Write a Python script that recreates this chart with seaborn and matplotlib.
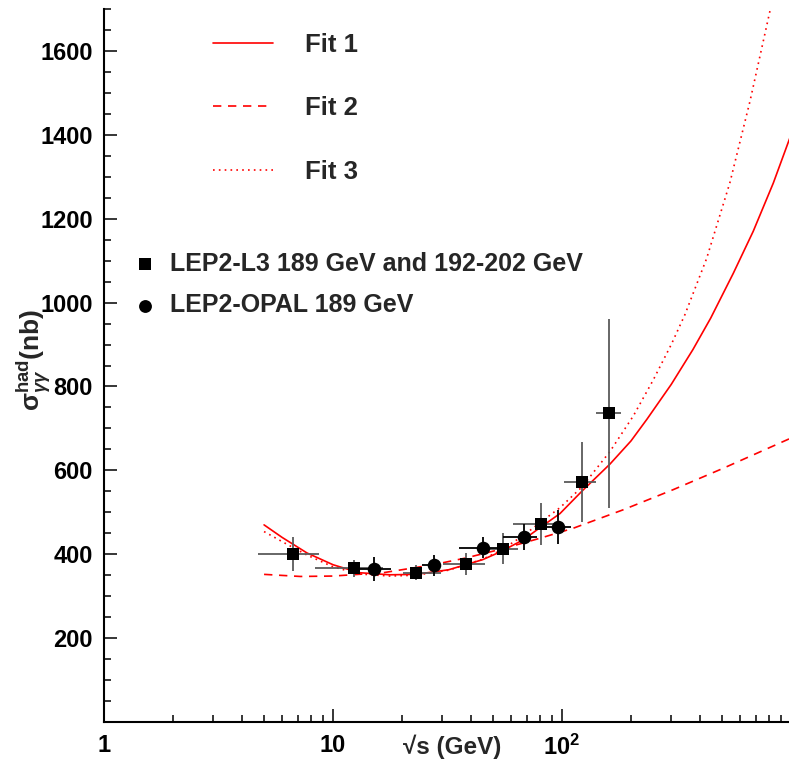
import matplotlib
matplotlib.use('Agg')
import matplotlib.pyplot as plt
import seaborn as sns
from matplotlib.ticker import FixedLocator, FixedFormatter, LogLocator, MultipleLocator, NullFormatter

# Fit curves (sqrt(s) in GeV, sigma in nb)
fit1_x = [5.0, 6.0, 7.7, 10, 13, 17.7, 23, 32, 45, 54, 68, 80, 98, 122, 162, 200, 235,
          300, 373, 446, 560, 684, 837, 1000]
fit1_y = [470, 440, 403, 375, 356, 351, 352, 363, 387, 406, 435, 463, 497, 550, 615, 670, 722,
          805, 888, 963, 1070, 1170, 1285, 1400]

fit2_x = [5.0, 7.2, 10, 16.6, 27.4, 38, 55, 80, 112, 185, 306, 506, 1000]
fit2_y = [352, 347, 348, 356, 375, 391, 413, 438, 462, 506, 554, 605, 677]

fit3_x = [5.0, 6.0, 7.7, 10, 13, 17.7, 23, 32, 45, 54, 68, 80, 98, 122, 162, 205,
          250, 300, 344, 428, 541, 662, 809, 840]
fit3_y = [454, 430, 398, 370, 353, 348, 350, 362, 388, 409, 445, 475, 511, 560, 645, 730,
          815, 900, 971, 1105, 1286, 1480, 1695, 1745]

# LEP2-L3 data
l3_x = [6.7, 12.4, 23.0, 38.2, 55.2, 81, 122, 161]
l3_y = [400, 366, 356, 377, 413, 472, 573, 736]
l3_xlo = [4.72, 8.33, 20.2, 30.2, 45.3, 61, 101.6, 141]
l3_xhi = [8.7, 16.5, 29.7, 46, 64.3, 100, 140.7, 181]
l3_yerr = [40, 20, 18, 26, 37, 50, 95, 226]

# LEP2-OPAL data
opal_x = [15.1, 27.7, 45.4, 68.2, 96.4]
opal_y = [365, 374, 416, 441, 465]
opal_xlo = [12.5, 24.4, 35.5, 55, 84]
opal_xhi = [17.9, 29.7, 57, 78, 110]
opal_yerr = [28, 25, 26, 30, 40]

sns.set_style('ticks')
plt.rcParams['font.family'] = ['Liberation Sans', 'DejaVu Sans']
plt.rcParams['font.weight'] = 'bold'
plt.rcParams['mathtext.fontset'] = 'custom'
plt.rcParams['mathtext.rm'] = 'Liberation Sans'
plt.rcParams['mathtext.it'] = 'Liberation Sans:italic'
plt.rcParams['mathtext.bf'] = 'Liberation Sans:bold'

W, H = 789, 766
fig = plt.figure(figsize=(W / 100, H / 100), dpi=100)
ax = fig.add_axes([104 / W, (H - 722) / H, 687 / W, 713 / H])

fit_handles = []
for fx, fy, ls in [(fit1_x, fit1_y, '-'), (fit2_x, fit2_y, (0, (5, 4))), (fit3_x, fit3_y, (0, (1, 2.5)))]:
    sns.lineplot(x=fx, y=fy, ax=ax, color='red', linestyle=ls, linewidth=1.2,
                 sort=False, estimator=None)
    fit_handles.append(ax.lines[-1])

# error bars
l3_xerr = [[x - lo for x, lo in zip(l3_x, l3_xlo)], [hi - x for x, hi in zip(l3_x, l3_xhi)]]
opal_xerr = [[x - lo for x, lo in zip(opal_x, opal_xlo)], [hi - x for x, hi in zip(opal_x, opal_xhi)]]
ax.errorbar(l3_x, l3_y, xerr=l3_xerr, yerr=l3_yerr, fmt='none', ecolor='#5a5a5a', elinewidth=1.3, capsize=0)
ax.errorbar(opal_x, opal_y, xerr=opal_xerr, yerr=opal_yerr, fmt='none', ecolor='black', elinewidth=1.3, capsize=0)

sns.scatterplot(x=l3_x, y=l3_y, ax=ax, marker='s', s=80, color='black', linewidth=0, zorder=5)
sq_handle = ax.collections[-1]
sns.scatterplot(x=opal_x, y=opal_y, ax=ax, marker='o', s=95, color='black', linewidth=0, zorder=5)
ci_handle = ax.collections[-1]

ax.set_xscale('log')
ax.set_xlim(1, 1000)
ax.set_ylim(0, 1700)
ax.xaxis.set_major_locator(FixedLocator([1, 10, 100]))
ax.xaxis.set_major_formatter(FixedFormatter(['1', '10', r'$\mathbf{10^{2}}$']))
ax.xaxis.set_minor_locator(LogLocator(base=10, subs=range(2, 10)))
ax.xaxis.set_minor_formatter(NullFormatter())
ax.set_yticks([200, 400, 600, 800, 1000, 1200, 1400, 1600])
ax.yaxis.set_minor_locator(MultipleLocator(50))

ax.tick_params(which='both', direction='in', width=1.1, labelsize=17, colors='black')
ax.tick_params(which='major', length=9.5)
ax.tick_params(which='minor', length=5)
ax.tick_params(axis='x', pad=9)
ax.tick_params(axis='y', pad=8)
for lab in ax.get_xticklabels() + ax.get_yticklabels():
    lab.set_fontweight('bold')

sns.despine(ax=ax, top=True, right=True)
for sp in ['left', 'bottom']:
    ax.spines[sp].set_linewidth(1.5)
    ax.spines[sp].set_color('black')
ax.set_xlabel('')
ax.set_ylabel('')

fig.text(452 / W, 1 - 747 / H, '\u221as (GeV)', ha='center', va='center', fontsize=17.5, fontweight='bold')
fig.text(34 / W, 1 - 360 / H, r'$\mathrm{\sigma}^{\mathbf{had}}_{\gamma\gamma}$(nb)', rotation=90,
         ha='center', va='center', fontsize=19, fontweight='bold')

leg1 = ax.legend(handles=fit_handles, labels=['Fit 1', 'Fit 2', 'Fit 3'], loc='upper left',
                 bbox_to_anchor=(213 / W, 1 - 33 / H), bbox_transform=fig.transFigure,
                 frameon=False, borderpad=0, borderaxespad=0, fontsize=18.5,
                 handlelength=2.33, handletextpad=1.25, labelspacing=1.53)
ax.add_artist(leg1)
ax.legend(handles=[sq_handle, ci_handle],
          labels=['LEP2-L3 189 GeV and 192-202 GeV', 'LEP2-OPAL 189 GeV'], loc='upper left',
          bbox_to_anchor=(132 / W, 1 - 252 / H), bbox_transform=fig.transFigure,
          frameon=False, borderpad=0, borderaxespad=0, fontsize=18,
          handlelength=1.0, handletextpad=0.5, labelspacing=0.7, markerscale=0.95)

fig.savefig('out.png', dpi=100)
